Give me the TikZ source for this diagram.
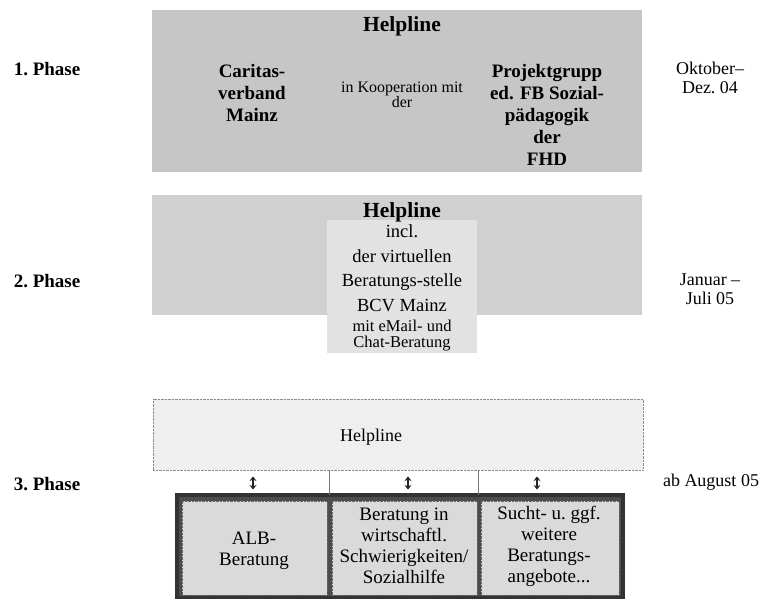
\documentclass[tikz,border=0pt]{standalone}
\usepackage{fontspec}
\setmainfont{Liberation Serif}
\usetikzlibrary{arrows.meta}
\definecolor{grayA}{RGB}{198,198,198}
\definecolor{grayB}{RGB}{208,208,208}
\definecolor{grayBin}{RGB}{226,226,226}
\definecolor{grayC}{RGB}{239,239,239}
\definecolor{cellgray}{RGB}{218,218,218}
\def\fs#1#2{\fontsize{#1}{#2}\selectfont}

\begin{document}
\begin{tikzpicture}[x=1pt, y=-1pt,
		plate/.style={inner sep=0pt, outer sep=0pt},
		txt/.style={align=center, inner sep=0pt},
		cellbox/.style={plate, fill=cellgray, draw=black!60, densely dotted, minimum height=94pt},
		updown/.style={{Stealth[length=4.5pt,width=7pt]}-{Stealth[length=4.5pt,width=7pt]}, line width=1.6pt, black!85}]
			%%%%% START %%%%%
			\useasboundingbox (0,0) rectangle (766,599);
			
			% 1. Phase
			\node[plate, fill=grayA, minimum width=490pt, minimum height=162pt] (plateA) at (397,91) {};
			\node[txt, font=\fs{21.5}{24}\bfseries] (helpA) at (402,26) {Helpline};
			\node[txt, font=\fs{19}{22}\bfseries] (caritas) at (252,93) {Caritas-\\verband\\Mainz};
			\node[txt, font=\fs{16}{15.5}] (koop) at (402,95) {in Kooperation mit\\der};
			\node[txt, font=\fs{19}{22}\bfseries] (projekt) at (547,115) {Projektgrupp\\ed. FB Sozial-\\pädagogik\\der\\FHD};
			
			% 2. Phase
			\node[plate, fill=grayB, minimum width=490pt, minimum height=120pt] (plateB) at (397,255) {};
			\node[plate, fill=grayBin, minimum width=150pt, minimum height=133pt] (innerB) at (402,286.5) {};
			\node[txt, font=\fs{21.5}{24}\bfseries] (helpB) at (402,212) {Helpline};
			\node[txt, font=\fs{18.5}{24.5}] (vbcA) at (402,268) {incl.\\der virtuellen\\Beratungs-stelle\\BCV Mainz};
			\node[txt, font=\fs{16.5}{16}] (vbcB) at (402,336) {mit eMail- und\\Chat-Beratung};
			
			% 3. Phase
			\node[plate, fill=grayC, draw=black!45, densely dotted, minimum width=490pt, minimum height=71pt] (plateC) at (398,434.5) {};
			\node[txt, font=\fs{18}{20}] (helpC) at (371,437) {Helpline};
			
			\node[plate, fill=black!70, draw=black!80, line width=3.5pt, minimum width=446pt, minimum height=103pt] (outer) at (400,546.5) {};
			\node[cellbox, minimum width=145pt] (cellA) at (254.5,548) {};
			\node[cellbox, minimum width=145pt] (cellB) at (404.5,548) {};
			\node[cellbox, minimum width=138pt] (cellC) at (550,548) {};
			\node[txt, font=\fs{19}{21}] (albText) at (254,551) {ALB-\\Beratung};
			\node[txt, font=\fs{19}{21}] (wirtText) at (404,546) {Beratung in\\wirtschaftl.\\Schwierigkeiten/\\Sozialhilfe};
			\node[txt, font=\fs{19}{21}] (suchtText) at (549,546) {Sucht- u.\ ggf.\\weitere\\Beratungs-\\angebote...};
			
			\coordinate (sepA) at (329.5,495);
			\coordinate (sepB) at (478.5,495);
			\draw[black!55] (plateC.south -| sepA) -- (sepA);
			\draw[black!55] (plateC.south -| sepB) -- (sepB);
			
			\coordinate (arrAtop) at (253,476.5);
			\coordinate (arrAbot) at (253,489.5);
			\coordinate (arrBtop) at (408,476.5);
			\coordinate (arrBbot) at (408,489.5);
			\coordinate (arrCtop) at (537,476.5);
			\coordinate (arrCbot) at (537,489.5);
			\draw[updown] (arrAtop) -- (arrAbot);
			\draw[updown] (arrBtop) -- (arrBbot);
			\draw[updown] (arrCtop) -- (arrCbot);
			
			% phases and dates
			\node[txt, font=\fs{19}{22}\bfseries] (phaseA) at (47,69) {1.\ Phase};
			\node[txt, font=\fs{19}{22}\bfseries] (phaseB) at (47,281) {2.\ Phase};
			\node[txt, font=\fs{19}{22}\bfseries] (phaseC) at (47,484) {3.\ Phase};
			\node[txt, font=\fs{18}{19}] (dateA) at (710,78) {Oktober–\\Dez.\ 04};
			\node[txt, font=\fs{18}{19}] (dateB) at (710,289) {Januar –\\Juli 05};
			\node[txt, font=\fs{18}{19}] (dateC) at (711,482) {ab August 05};
			
			%%%%% END %%%%%
		\end{tikzpicture}
\end{document}
